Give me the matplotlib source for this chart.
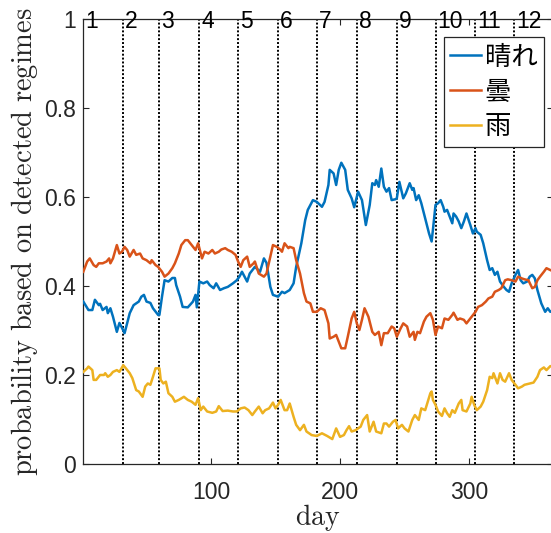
import numpy as np
import matplotlib
matplotlib.use('Agg')
import matplotlib.pyplot as plt

plt.rcParams['font.family'] = ['Liberation Sans', 'Noto Sans CJK JP', 'DejaVu Sans']
plt.rcParams['mathtext.fontset'] = 'cm'

# データ
sunny_day = [1, 5, 8, 10, 13, 14, 16, 19, 20, 22, 24, 27, 29, 31, 33, 35, 37, 40, 44, 46, 48, 50, 53, 55, 59, 60,
             62, 64, 67, 70, 72, 73, 76, 78, 82, 86, 88, 89, 91, 94, 97, 99, 102, 104, 107, 110, 113, 117, 120, 122,
             124, 128, 130, 134, 138, 141, 143, 146, 148, 152, 155, 157, 161, 164, 166, 170, 173, 175, 179, 182,
             186, 188, 191, 192, 195, 197, 199, 201, 204, 206, 209, 211, 214, 217, 220, 223, 225, 227, 228, 230,
             232, 234, 236, 238, 240, 243, 244, 246, 249, 251, 254, 256, 257, 259, 261, 263, 266, 269, 271, 272,
             274, 276, 278, 280, 281, 283, 285, 287, 288, 290, 292, 294, 296, 298, 301, 303, 305, 306, 309, 311,
             314, 316, 318, 320, 322, 324, 327, 329, 331, 333, 336, 338, 340, 342, 345, 347, 349, 351, 353, 356,
             359, 361, 363, 365]
sunny_p = [0.365, 0.346, 0.346, 0.369, 0.357, 0.36, 0.346, 0.353, 0.339, 0.35, 0.331, 0.297, 0.317, 0.306, 0.294,
           0.317, 0.339, 0.357, 0.365, 0.376, 0.38, 0.365, 0.362, 0.35, 0.335, 0.335,
           0.376, 0.413, 0.41, 0.418, 0.418, 0.402, 0.376, 0.353, 0.352, 0.365, 0.38, 0.352, 0.41, 0.406, 0.41,
           0.402, 0.395, 0.406, 0.391, 0.395, 0.398, 0.406, 0.413, 0.421,
           0.432, 0.41, 0.428, 0.443, 0.432, 0.462, 0.452, 0.398, 0.38, 0.376, 0.387, 0.384, 0.391, 0.406, 0.443,
           0.496, 0.548, 0.571, 0.593, 0.589,
           0.578, 0.589, 0.627, 0.661, 0.653, 0.627, 0.661, 0.677, 0.661, 0.616, 0.597, 0.577, 0.612, 0.593,
           0.537, 0.582, 0.631, 0.627, 0.638, 0.623,
           0.664, 0.623, 0.612, 0.62, 0.593, 0.595, 0.597, 0.634, 0.597, 0.608, 0.631, 0.616, 0.62, 0.593, 0.604,
           0.586, 0.552, 0.518, 0.5, 0.526,
           0.582, 0.586, 0.593, 0.578, 0.567, 0.571, 0.556, 0.541, 0.563, 0.556, 0.545, 0.53, 0.545, 0.563, 0.537,
           0.518, 0.53, 0.522, 0.515, 0.496,
           0.458, 0.436, 0.44, 0.425, 0.432, 0.41, 0.398, 0.391, 0.387, 0.406, 0.425, 0.436, 0.413, 0.406, 0.41,
           0.421, 0.425, 0.417, 0.391, 0.361,
           0.342, 0.35, 0.342, 0.345]

cloudy_day = [1, 4, 6, 9, 11, 13, 16, 19, 21, 22, 24, 27, 29, 31, 33, 35, 37, 40, 42, 45, 47, 50, 53, 54, 57, 59,
              62, 64, 67, 70, 72, 75, 77, 80, 82, 85, 88, 90, 93, 95, 98, 101, 103, 106, 108, 111, 113, 116, 119,
              121, 123, 125, 128, 130, 133, 134, 137, 141, 143, 146, 148, 151, 154, 155, 157, 160, 161, 164, 166,
              169, 172, 174, 177, 179, 182, 185, 188, 191, 192, 195, 197, 199, 201, 204, 206, 209, 211, 213, 215,
              217, 219, 222, 225, 227, 230, 232, 234, 237, 240, 242, 244, 247, 249, 252, 254, 257, 258, 260, 262,
              265, 267, 270, 272, 274, 276, 279, 281, 284, 287, 288, 291, 293, 296, 298, 302, 305, 307, 310, 313,
              315, 318, 320, 323, 325, 328, 330, 333, 336, 338, 341, 343, 346, 349, 351, 353, 355, 358, 360, 363,
              365]
cloudy_p = [0.432, 0.455, 0.462, 0.447, 0.443, 0.451, 0.451, 0.455, 0.462, 0.451, 0.462, 0.492, 0.473, 0.477,
            0.488, 0.481, 0.466, 0.481, 0.47, 0.473, 0.462, 0.458, 0.451, 0.458, 0.447, 0.443,
            0.432, 0.421, 0.428, 0.44, 0.451, 0.473, 0.492, 0.503, 0.503, 0.492, 0.481, 0.496, 0.462, 0.477, 0.473,
            0.481, 0.473, 0.477, 0.482, 0.485, 0.481, 0.477, 0.47,
            0.455, 0.443, 0.458, 0.466, 0.443, 0.451, 0.455, 0.428, 0.421, 0.428, 0.466, 0.492, 0.488, 0.481,
            0.477, 0.496, 0.485, 0.488, 0.485, 0.458,
            0.428, 0.384, 0.365, 0.361, 0.342, 0.342, 0.35, 0.346, 0.316, 0.282, 0.286, 0.29, 0.275, 0.26, 0.26,
            0.286, 0.327, 0.342, 0.316, 0.301,
            0.324, 0.35, 0.331, 0.297, 0.29, 0.297, 0.267, 0.294, 0.294, 0.309, 0.305, 0.286, 0.305, 0.316, 0.309,
            0.286, 0.297, 0.279, 0.297, 0.294,
            0.32, 0.331, 0.339, 0.324, 0.29, 0.309, 0.305, 0.327, 0.324, 0.335, 0.34, 0.324, 0.327, 0.324, 0.316,
            0.331, 0.342, 0.353, 0.357, 0.365,
            0.372, 0.376, 0.387, 0.391, 0.395, 0.413, 0.415, 0.413, 0.41, 0.421, 0.417, 0.415, 0.413, 0.395, 0.398,
            0.413, 0.421, 0.432, 0.44, 0.436,
            0.433]

rain_day = [1, 4, 5, 8, 9, 11, 14, 17, 18, 20, 22, 24, 27, 29, 32, 34, 37, 39, 42, 44, 47, 49, 51, 53, 55, 57,
            60, 61, 63, 65, 67, 70, 72, 75, 79, 82, 85, 88, 90, 92, 94, 97, 101, 104, 106, 109, 113, 117, 120,
            123, 126, 129, 132, 134, 137, 140, 142, 145, 148, 150, 152, 154, 157, 159, 161, 164, 166, 169, 172,
            174, 178, 182, 186, 190, 194, 197, 200, 203, 205, 207, 209, 212, 216, 218, 221, 223, 226, 228, 232,
            234, 236, 238, 241, 243, 245, 248, 250, 253, 256, 258, 261, 263, 266, 268, 270, 271, 272, 274, 276,
            279, 281, 283, 285, 287, 289, 292, 294, 295, 298, 301, 302, 304, 306, 309, 311, 314, 316, 318, 319,
            322, 324, 326, 328, 331, 333, 336, 338, 341, 343, 347, 350, 353, 355, 358, 360, 363, 365]
rain_p = [0.207, 0.215, 0.219, 0.211, 0.189, 0.189, 0.2, 0.2, 0.204, 0.196, 0.2, 0.207, 0.211, 0.207, 0.222,
          0.215, 0.204, 0.193, 0.166, 0.163, 0.151, 0.174, 0.181, 0.178, 0.196, 0.215,
          0.215, 0.189, 0.181, 0.185, 0.159, 0.151, 0.14, 0.144, 0.151, 0.144, 0.14, 0.133, 0.148, 0.121, 0.129,
          0.118, 0.115, 0.118, 0.13, 0.119, 0.12, 0.118, 0.118,
          0.125, 0.127, 0.121, 0.11, 0.118, 0.129, 0.114, 0.121, 0.125, 0.138, 0.125, 0.133, 0.144, 0.121, 0.121,
          0.136, 0.106, 0.088, 0.076, 0.088,
          0.073, 0.065, 0.063, 0.069, 0.063, 0.056, 0.08, 0.061, 0.065, 0.076, 0.085, 0.073, 0.076, 0.084, 0.099,
          0.11, 0.073, 0.095, 0.073, 0.069,
          0.091, 0.091, 0.084, 0.095, 0.099, 0.08, 0.088, 0.08, 0.073, 0.099, 0.11, 0.099, 0.125, 0.121, 0.14,
          0.159, 0.163, 0.144, 0.133, 0.118,
          0.108, 0.125, 0.114, 0.106, 0.121, 0.115, 0.136, 0.144, 0.121, 0.118, 0.136, 0.151, 0.133, 0.121,
          0.129, 0.14, 0.166, 0.196, 0.193, 0.204,
          0.181, 0.204, 0.189, 0.185, 0.204, 0.189, 0.178, 0.17, 0.174, 0.178, 0.181, 0.183, 0.196, 0.211, 0.217,
          0.211, 0.22, 0.218]

month_start = [1, 32, 60, 91, 121, 152, 182, 213, 244, 274, 305, 335]
month_label = ['1', '2', '3', '4', '5', '6', '7', '8', '9', '10', '11', '12']
legend_label = ['晴れ', '曇', '雨']
colors = ['#0072BD', '#D95319', '#EDB120']
axcol = '#262626'

fig = plt.figure(figsize=(5.51, 5.33), dpi=100)
ax = fig.add_axes([83.3 / 551, 1 - 464 / 533, 469.6 / 551, 445 / 533])

for d in month_start:
    ax.axvline(d, color='k', linestyle=(0, (1, 1)), linewidth=1.4, zorder=1)
for d, s in zip(month_start, month_label):
    ax.text(d + 1.5, 0.995, s, ha='left', va='center', fontsize=16.5, color='k')

l1, = ax.plot(sunny_day, sunny_p, color=colors[0], lw=1.8, zorder=3)
l2, = ax.plot(cloudy_day, cloudy_p, color=colors[1], lw=1.8, zorder=3)
l3, = ax.plot(rain_day, rain_p, color=colors[2], lw=1.8, zorder=3)

ax.set_xlim(1, 365)
ax.set_ylim(0, 1)
ax.set_xticks([100, 200, 300])
ax.set_yticks([0, 0.2, 0.4, 0.6, 0.8, 1])
ax.set_yticklabels(['0', '0.2', '0.4', '0.6', '0.8', '1'])
ax.tick_params(direction='in', top=True, right=True, length=4, width=0.8, labelsize=16.5,
               colors=axcol, labelcolor=axcol)
ax.tick_params(axis='x', pad=12)
ax.tick_params(axis='y', pad=5.5)
for sp in ax.spines.values():
    sp.set_color(axcol)
    sp.set_linewidth(0.9)

ax.set_xlabel(r'$\mathrm{day}$', fontsize=20, color=axcol, labelpad=-1)
ax.set_ylabel(r'$\mathrm{probability\ based\ on\ detected\ regimes}$', fontsize=20.5, color=axcol, labelpad=3)

leg = ax.legend([l1, l2, l3], legend_label, loc='upper right', bbox_to_anchor=(0.981, 0.9596),
                borderaxespad=0, fancybox=False, framealpha=1, edgecolor=axcol,
                prop={'family': ['Noto Sans CJK JP'], 'size': 19},
                handlelength=1.15, handletextpad=0.15, labelspacing=0.3, borderpad=0.25)
leg.get_frame().set_linewidth(0.9)

fig.savefig('out.png', dpi=100)
